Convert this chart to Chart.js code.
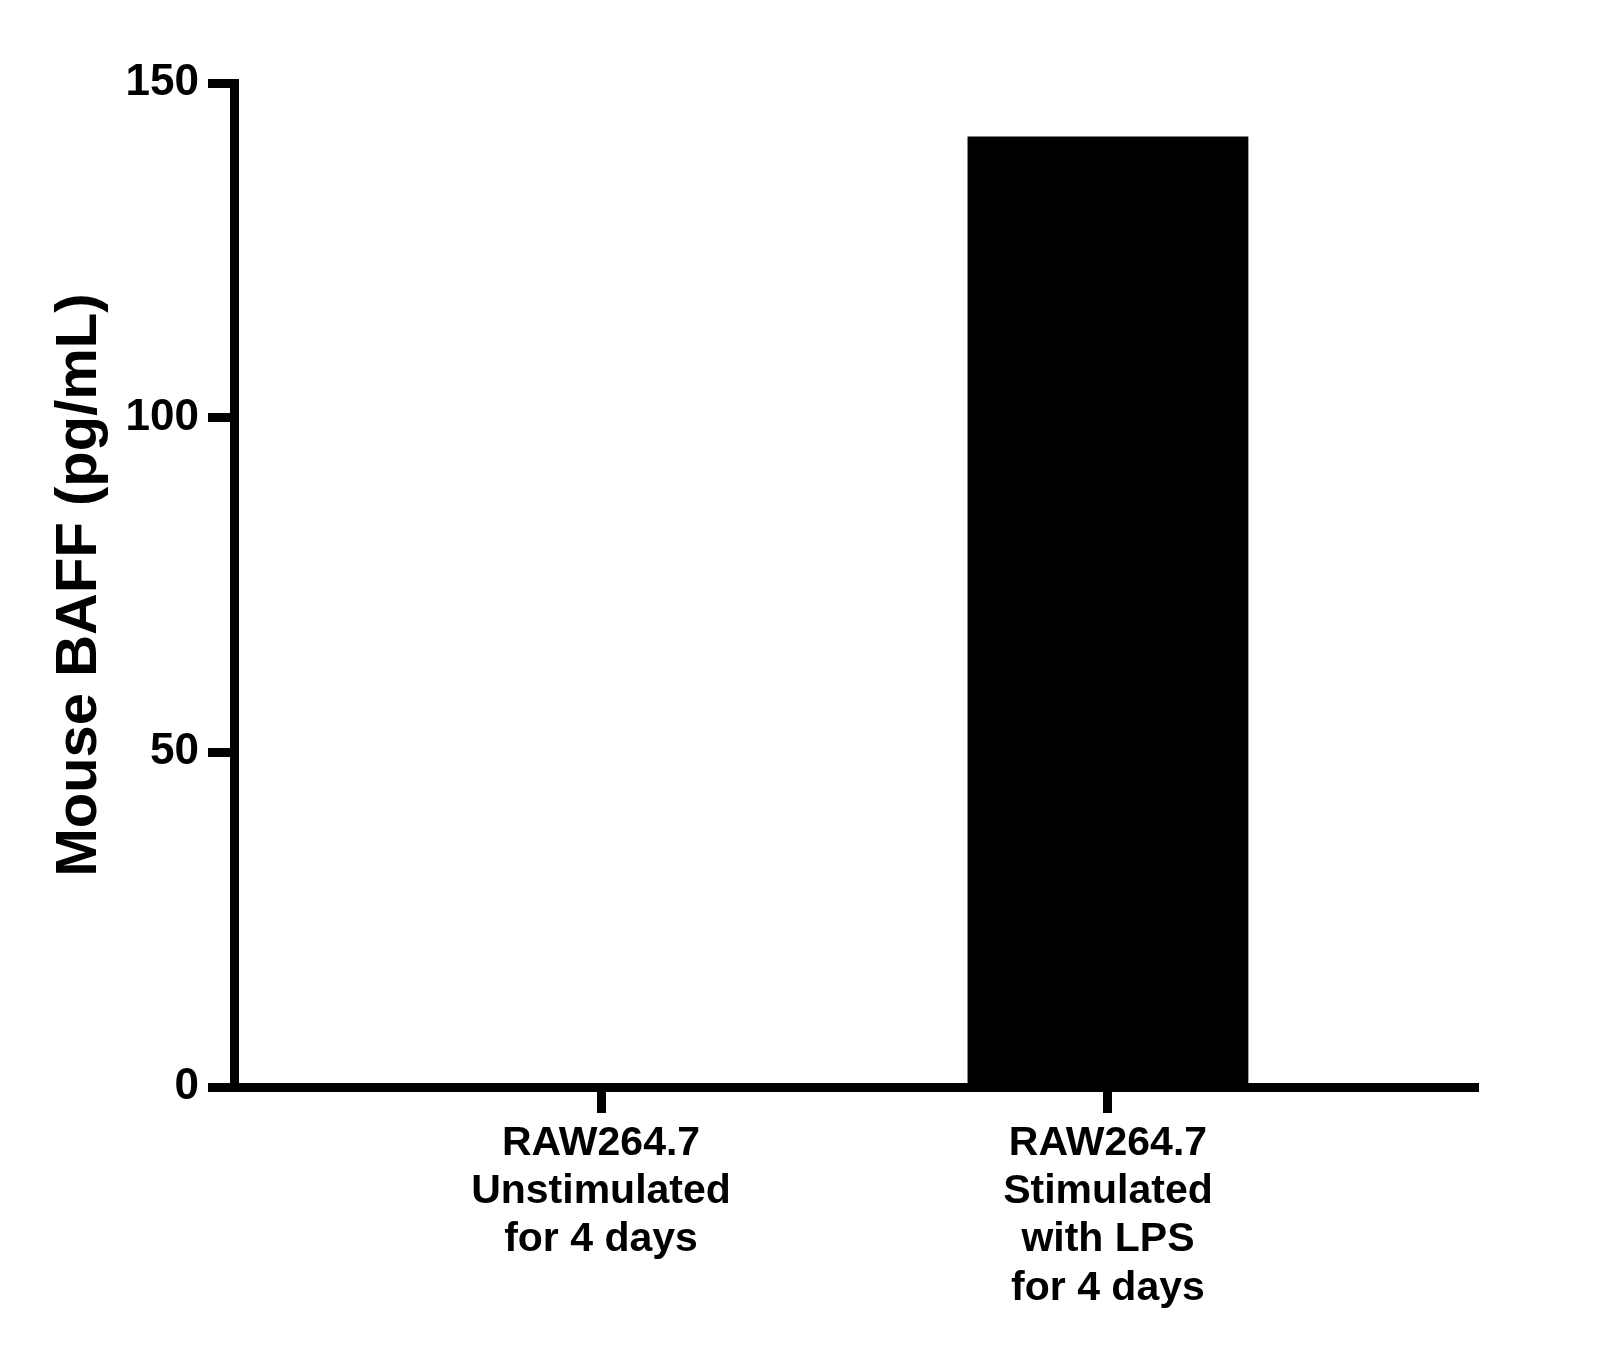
<!DOCTYPE html>
<html>
<head>
<meta charset="utf-8">
<title>Mouse BAFF</title>
<script src="https://cdn.jsdelivr.net/npm/chart.js@4/dist/chart.umd.min.js"></script>
<style>
  html, body { margin: 0; padding: 0; background: #fff; }
  canvas { display: block; }
</style>
</head>
<body>
<canvas id="chartBar" width="1613" height="1346"></canvas>
<script>
  // dados
  const categories = [
    ['RAW264.7', 'Unstimulated', 'for 4 days'],
    ['RAW264.7', 'Stimulated', 'with LPS', 'for 4 days']
  ];
  const positions = [0, 1];
  const baffValues = [0, 142];
  const yTicks = [0, 50, 100, 150];

  const fonte = 'Liberation Sans, Arial, Helvetica, sans-serif';

  const ctxBar = document.getElementById('chartBar');
  new Chart(ctxBar, {
    type: 'bar',
    data: {
      datasets: [{
        label: 'Mouse BAFF',
        data: positions.map((x, i) => ({ x: x, y: baffValues[i] })),
        backgroundColor: '#000',
        borderWidth: 0,
        categoryPercentage: 1,
        barPercentage: 0.554
      }]
    },
    options: {
      responsive: false,
      animation: false,
      devicePixelRatio: 1,
      layout: {
        padding: { left: 45, right: 135, top: 83, bottom: 0 }
      },
      plugins: {
        legend: { display: false },
        tooltip: { enabled: false }
      },
      scales: {
        x: {
          type: 'linear',
          offset: false,
          min: -0.724,
          max: 1.73,
          afterBuildTicks: (scale) => {
            scale.ticks = positions.map(v => ({ value: v }));
          },
          afterFit: (scale) => {
            scale.height = 1346 - 1087;
          },
          border: { display: true, color: '#000', width: 9 },
          grid: {
            display: true,
            offset: false,
            drawOnChartArea: false,
            drawTicks: true,
            tickLength: 26,
            tickWidth: 9,
            tickColor: '#000'
          },
          ticks: {
            color: '#000',
            padding: 6,
            maxRotation: 0,
            autoSkip: false,
            font: { family: fonte, size: 41, weight: 'bold', lineHeight: 1.18 },
            callback: function (value) {
              const i = positions.indexOf(value);
              return i >= 0 ? categories[i] : '';
            }
          }
        },
        y: {
          min: 0,
          max: 150,
          afterBuildTicks: (scale) => {
            scale.ticks = yTicks.map(v => ({ value: v }));
          },
          afterFit: (scale) => {
            scale.width = 234 - 45;
          },
          border: { display: true, color: '#000', width: 9 },
          grid: {
            display: true,
            drawOnChartArea: false,
            drawTicks: true,
            tickLength: 26,
            tickWidth: 9,
            tickColor: '#000'
          },
          ticks: {
            color: '#000',
            padding: 9,
            font: { family: fonte, size: 44, weight: 'bold' }
          },
          title: {
            display: true,
            text: 'Mouse BAFF (pg/mL)',
            color: '#000',
            padding: 0,
            font: { family: fonte, size: 58, weight: 'bold' }
          }
        }
      }
    }
  });
</script>
</body>
</html>
